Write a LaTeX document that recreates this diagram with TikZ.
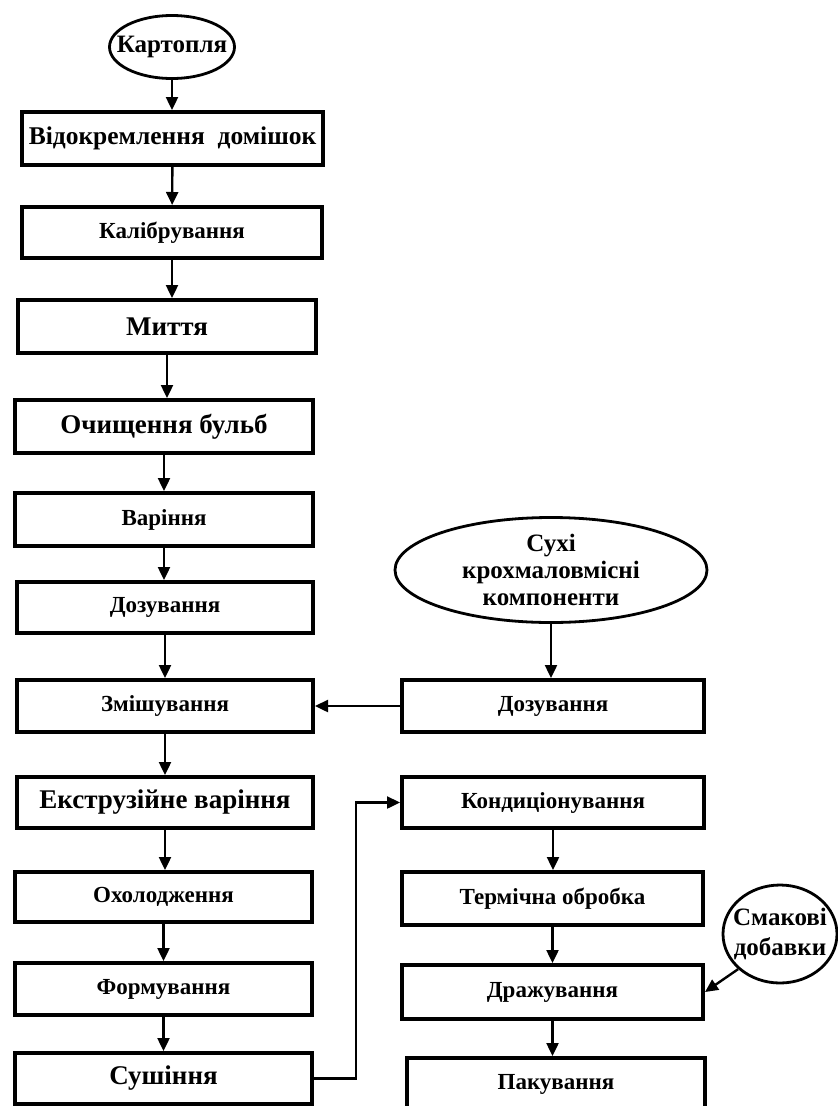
\documentclass[tikz,border=0pt]{standalone}
\usepackage{fontspec}
\setmainfont{Liberation Serif}
\usetikzlibrary{arrows.meta,shapes.geometric}
\begin{document}
\begin{tikzpicture}[x=1pt,y=-1pt,
  box/.style 2 args={draw, line width=4pt, rectangle, inner sep=0pt,
    minimum width=#1pt, minimum height=#2pt, font=\bfseries\fontsize{23}{27}\selectfont},
  big/.style={font=\bfseries\fontsize{27}{30}\selectfont},
  oval/.style 2 args={draw, line width=2.8pt, ellipse, inner sep=0pt,
    minimum width=#1pt, minimum height=#2pt},
  otext/.style={font=\bfseries\fontsize{25}{27}\selectfont, align=center},
  arr/.style={line width=2.4pt, -{Triangle[length=13pt,width=12pt]}},
]
\useasboundingbox[fill=white] (0,0) rectangle (838,1106);

% left column
\node[oval={125}{63}, label={[otext]center:Картопля}] (potato) at (172,47) {};
\node[box={301}{53}, font=\bfseries\fontsize{25.5}{30}\selectfont] (sep) at (172.5,138.5) {Відокремлення\ \ домішок};
\node[box={300}{51}] (cal) at (172,232.5) {Калібрування};
\node[box={298}{53}, big] (wash) at (167,326.5) {Миття};
\node[box={298}{53}, big] (peel) at (164,426.5) {Очищення бульб};
\node[box={298}{53}] (boil) at (164,519.5) {Варіння};
\node[box={296}{51}] (dose1) at (165,607.5) {Дозування};
\node[box={296}{52}] (mix) at (165,706) {Змішування};
\node[box={296}{51}, big] (extr) at (165,802.5) {Екструзійне варіння};
\node[box={297}{50}] (cool) at (163.5,897) {Охолодження};
\node[box={297}{52}] (form) at (163.5,989) {Формування};
\node[box={297}{51}, big] (dry) at (163.5,1078.5) {Сушіння};

% right column
\node[oval={312}{105}, label={[otext]center:Сухі\\крохмаловмісні\\компоненти}] (starch) at (551,570) {};
\node[box={302}{52}] (dose2) at (553,706) {Дозування};
\node[box={302}{51}] (cond) at (553,802.5) {Кондиціонування};
\node[box={301}{53}] (heat) at (552.5,898.5) {Термічна обробка};
\node[box={301}{54}] (coat) at (552.5,992) {Дражування};
\node[box={298}{52}] (pack) at (556,1084) {Пакування};
\node[oval={114}{98}, label={[otext, font=\bfseries\fontsize{25}{30}\selectfont]center:Смакові\\добавки}] (flav) at (780,934) {};

% connectors
\draw[arr] (potato) -- (potato.south |- sep.north);
\draw[arr] (sep) -- (cal);
\draw[arr] (cal) -- (cal.south |- wash.north);
\draw[arr] (wash) -- (wash.south |- peel.north);
\draw[arr] (peel) -- (boil);
\draw[arr] (boil) -- (boil.south |- dose1.north);
\draw[arr] (dose1) -- (mix);
\draw[arr] (mix) -- (extr);
\draw[arr] (extr) -- (extr.south |- cool.north);
\draw[arr] (cool) -- (form);
\draw[arr] (form) -- (dry);

\draw[arr] (starch) -- (starch.south |- dose2.north);
\draw[arr] (dose2) -- (mix);
\draw[arr] (dry.east) -- ++(42,0) |- (cond.west);
\draw[arr] (cond) -- (cond.south |- heat.north);
\draw[arr] (heat) -- (coat);
\draw[arr] (coat) -- (coat.south |- pack.north);
\draw[arr] (flav.220) -- (coat.east);
\end{tikzpicture}
\end{document}
